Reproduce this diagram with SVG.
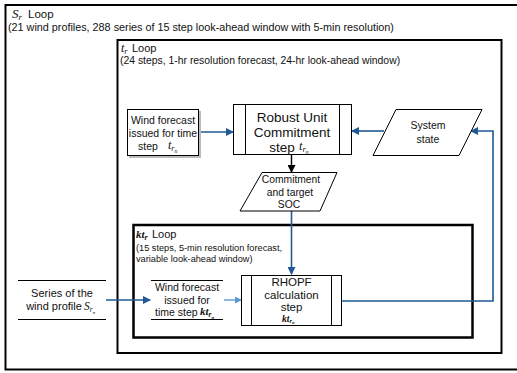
<svg xmlns="http://www.w3.org/2000/svg" width="517" height="373" viewBox="0 0 517 373">
  <style>
    .sans { font-family: "Liberation Sans", Arial, sans-serif; fill: #111; }
    .math { font-family: "Liberation Serif", "Times New Roman", serif; font-style: italic; fill: #111; }
    .loop { fill: none; stroke: #000; }
    .box { fill: #fff; stroke: #000; stroke-width: 1; }
    .blue { fill: none; stroke: #1f5a96; stroke-width: 1.6; }
    .lblue { fill: none; stroke: #5b9bd5; stroke-width: 1.4; }
    .blk { fill: none; stroke: #000; stroke-width: 1.4; }
  </style>
  <defs>
    <marker id="ahBlue" markerWidth="8" markerHeight="8" refX="7" refY="4" orient="auto" markerUnits="userSpaceOnUse">
      <path d="M0,0 L8,4 L0,8 Z" fill="#1f5a96"/>
    </marker>
    <marker id="ahLBlue" markerWidth="7" markerHeight="7" refX="6" refY="3.5" orient="auto" markerUnits="userSpaceOnUse">
      <path d="M0,0 L7,3.5 L0,7 Z" fill="#5b9bd5"/>
    </marker>
    <marker id="ahBlack" markerWidth="8" markerHeight="8" refX="7" refY="4" orient="auto" markerUnits="userSpaceOnUse">
      <path d="M0,0 L8,4 L0,8 Z" fill="#000"/>
    </marker>
  </defs>
  <rect width="517" height="373" fill="#fff"/>

  <!-- outer scenario loop -->
  <g id="loop-s">
    <rect class="loop" x="5.5" y="5" width="514" height="364.5" stroke-width="2"/>
    <text x="12" y="18" class="math" font-size="13">S<tspan font-size="9" dy="2">r</tspan></text>
    <text x="28" y="18" class="sans" font-size="11.5">Loop</text>
    <text x="8" y="31" class="sans" font-size="10.8">(21 wind profiles, 288 series of 15 step look-ahead window with 5-min resolution)</text>
  </g>

  <!-- hourly loop -->
  <g id="loop-t">
    <rect class="loop" x="117.5" y="40" width="384" height="313" stroke-width="2"/>
    <text x="121" y="52" class="math" font-size="12">t<tspan font-size="8.5" dy="2">r</tspan></text>
    <text x="132" y="52" class="sans" font-size="11">Loop</text>
    <text x="120" y="64" class="sans" font-size="10.4">(24 steps, 1-hr resolution forecast, 24-hr look-ahead window)</text>
  </g>

  <!-- five-minute loop -->
  <g id="loop-kt">
    <rect class="loop" x="133.5" y="225" width="339" height="112.5" stroke-width="2.5"/>
    <text x="136" y="238" class="math" font-size="11" font-weight="bold">kt<tspan font-size="8" dy="2">r</tspan></text>
    <text x="152" y="238" class="sans" font-size="11">Loop</text>
    <text x="136" y="251" class="sans" font-size="9.2">(15 steps, 5-min resolution forecast,</text>
    <text x="136" y="262" class="sans" font-size="9.2">variable look-ahead window)</text>
  </g>

  <!-- connectors -->
  <g id="connectors">
    <line class="blue" x1="199" y1="132" x2="233" y2="132" marker-end="url(#ahBlue)"/>
    <line class="blue" x1="384" y1="131" x2="352" y2="131" marker-end="url(#ahBlue)"/>
    <line class="blk" x1="291.5" y1="154" x2="291.5" y2="172" marker-end="url(#ahBlack)"/>
    <line class="blue" x1="291.5" y1="211" x2="291.5" y2="274" marker-end="url(#ahBlue)"/>
    <polyline class="blue" points="342,301 493,301 493,131 471,131" marker-end="url(#ahBlue)"/>
    <line class="blue" x1="106" y1="300" x2="150" y2="300" marker-end="url(#ahBlue)"/>
    <line class="lblue" x1="224" y1="300" x2="241" y2="300" marker-end="url(#ahLBlue)"/>
  </g>

  <!-- hourly wind forecast input -->
  <g id="wind-forecast-t">
    <rect x="129" y="111" width="72" height="47" fill="#bbb"/>
    <rect class="box" x="127.5" y="109.5" width="71" height="46"/>
    <text x="163" y="124" class="sans" font-size="10.5" text-anchor="middle">Wind forecast</text>
    <text x="163" y="136.5" class="sans" font-size="10.5" text-anchor="middle">issued for time</text>
    <text x="148" y="149.5" class="sans" font-size="10.5" text-anchor="middle">step</text>
    <text x="168" y="149" class="math" font-size="12">t<tspan font-size="8" dy="2">r</tspan><tspan font-size="5.5" dy="1.5">n</tspan></text>
  </g>

  <!-- robust unit commitment -->
  <g id="ruc">
    <rect class="box" x="233.5" y="104.5" width="118" height="50"/>
    <line x1="245.5" y1="104.5" x2="245.5" y2="154.5" stroke="#000"/>
    <line x1="339.5" y1="104.5" x2="339.5" y2="154.5" stroke="#000"/>
    <text x="292" y="122" class="sans" font-size="13.5" text-anchor="middle">Robust Unit</text>
    <text x="292" y="137" class="sans" font-size="13.5" text-anchor="middle">Commitment</text>
    <text x="282" y="152" class="sans" font-size="13.5" text-anchor="middle">step</text>
    <text x="299" y="150" class="math" font-size="12.5">t<tspan font-size="8.5" dy="2">r</tspan><tspan font-size="5.5" dy="1.5">n</tspan></text>
  </g>

  <!-- system state -->
  <g id="system-state">
    <polygon class="box" points="396,109.5 482,109.5 459,155.5 373,155.5"/>
    <text x="428" y="129" class="sans" font-size="10.5" text-anchor="middle">System</text>
    <text x="428" y="143" class="sans" font-size="10.5" text-anchor="middle">state</text>
  </g>

  <!-- commitment and target SOC -->
  <g id="commitment-soc">
    <polygon class="box" points="262,172.5 337,172.5 320,211 240,211"/>
    <text x="291" y="183" class="sans" font-size="10.3" text-anchor="middle">Commitment</text>
    <text x="290" y="195.5" class="sans" font-size="10.3" text-anchor="middle">and target</text>
    <text x="289" y="208" class="sans" font-size="10.3" text-anchor="middle">SOC</text>
  </g>

  <!-- wind profile series input -->
  <g id="wind-series">
    <line x1="18" y1="280.5" x2="106" y2="280.5" stroke="#000"/>
    <line x1="18" y1="319.5" x2="106" y2="319.5" stroke="#000"/>
    <text x="62" y="297" class="sans" font-size="11" text-anchor="middle">Series of the</text>
    <text x="54" y="310" class="sans" font-size="11" text-anchor="middle">wind profile</text>
    <text x="84" y="310" class="math" font-size="11.5">S<tspan font-size="7.5" dy="2">r</tspan><tspan font-size="5" dy="1.5">n</tspan></text>
  </g>

  <!-- five-minute wind forecast -->
  <g id="wind-forecast-kt">
    <line x1="151" y1="280.5" x2="223" y2="280.5" stroke="#000"/>
    <line x1="151" y1="319.5" x2="223" y2="319.5" stroke="#000"/>
    <text x="187" y="291" class="sans" font-size="10.5" text-anchor="middle">Wind forecast</text>
    <text x="187" y="303.5" class="sans" font-size="10.5" text-anchor="middle">issued for</text>
    <text x="155" y="316" class="sans" font-size="10.5">time step</text>
    <text x="200" y="315" class="math" font-size="11" font-weight="bold">kt<tspan font-size="7.5" dy="2">r</tspan><tspan font-size="5" dy="1.5">n</tspan></text>
  </g>

  <!-- RHOPF calculation -->
  <g id="rhopf">
    <rect class="box" x="241.5" y="275.5" width="100" height="50"/>
    <line x1="251.5" y1="275.5" x2="251.5" y2="325.5" stroke="#000"/>
    <line x1="331.5" y1="275.5" x2="331.5" y2="325.5" stroke="#000"/>
    <text x="291.5" y="286" class="sans" font-size="11.5" text-anchor="middle">RHOPF</text>
    <text x="291.5" y="299" class="sans" font-size="11.5" text-anchor="middle">calculation</text>
    <text x="291.5" y="311" class="sans" font-size="11.5" text-anchor="middle">step</text>
    <text x="282" y="321.5" class="math" font-size="9.5" font-weight="bold">kt<tspan font-size="6.5" dy="1.5">r</tspan><tspan font-size="4.5" dy="1">n</tspan></text>
  </g>
</svg>
